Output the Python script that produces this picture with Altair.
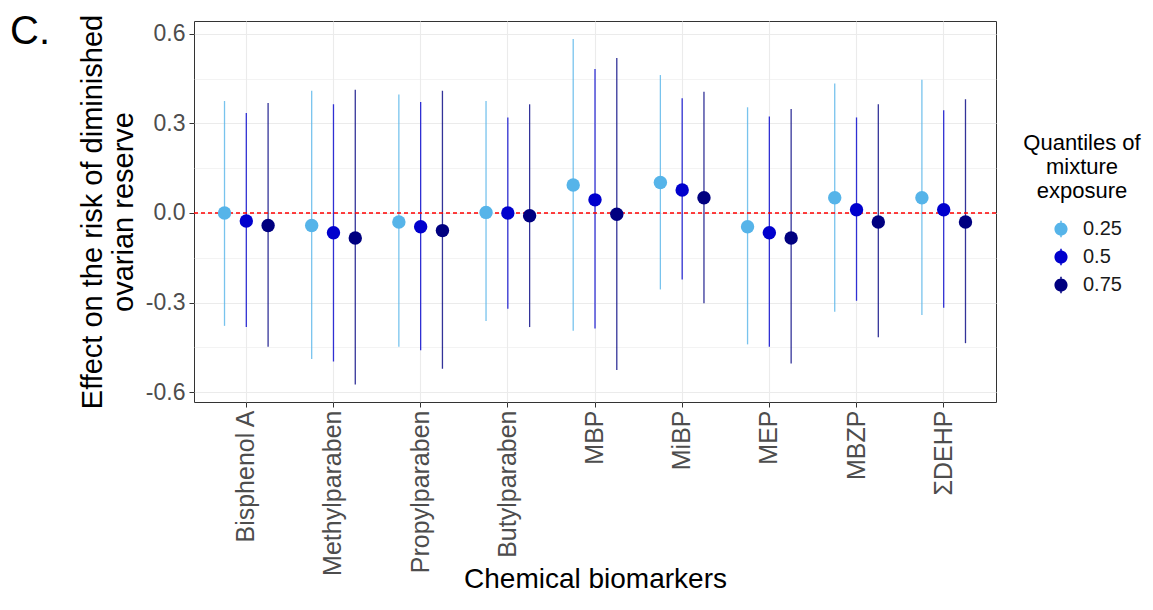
import altair as alt
import pandas as pd

chemicals = ["Bisphenol A", "Methylparaben", "Propylparaben", "Butylparaben",
             "MBP", "MiBP", "MEP", "MBZP", "ΣDEHP"]
quantiles = ["0.25", "0.5", "0.75"]

est_q25 = [0.000, -0.042, -0.030, 0.002, 0.094, 0.102, -0.046, 0.051, 0.051]
lo_q25 = [-0.378, -0.489, -0.448, -0.362, -0.394, -0.256, -0.440, -0.331, -0.342]
hi_q25 = [0.375, 0.409, 0.397, 0.375, 0.583, 0.462, 0.354, 0.434, 0.446]

est_q50 = [-0.027, -0.066, -0.046, 0.000, 0.044, 0.077, -0.066, 0.011, 0.011]
lo_q50 = [-0.382, -0.497, -0.460, -0.321, -0.387, -0.223, -0.448, -0.294, -0.317]
hi_q50 = [0.335, 0.364, 0.372, 0.320, 0.482, 0.384, 0.323, 0.320, 0.344]

est_q75 = [-0.042, -0.084, -0.059, -0.009, -0.004, 0.051, -0.084, -0.030, -0.030]
lo_q75 = [-0.448, -0.574, -0.522, -0.382, -0.526, -0.302, -0.504, -0.416, -0.436]
hi_q75 = [0.368, 0.413, 0.409, 0.364, 0.519, 0.406, 0.348, 0.364, 0.381]

colors = ["#56B4E9", "#0000CD", "#000080"]
y_ticks = [-0.6, -0.45, -0.3, -0.15, 0.0, 0.15, 0.3, 0.45, 0.6]
reference_line = [0.0]
panel_label = ["C."]

rows = []
for q, est, lo, hi in zip(quantiles, [est_q25, est_q50, est_q75],
                          [lo_q25, lo_q50, lo_q75], [hi_q25, hi_q50, hi_q75]):
    for c, e, l, h in zip(chemicals, est, lo, hi):
        rows.append({"chemical": c, "quantile": q, "est": e, "lo": l, "hi": h})
df = pd.DataFrame(rows)

FONT = "Liberation Sans"
major = "abs(datum.value/0.3 - round(datum.value/0.3)) < 0.01"

legend_symbol = ("M-0.8,0 A0.8,0.8 0 1,0 0.8,0 A0.8,0.8 0 1,0 -0.8,0 Z "
                 "M-0.09,-1 L0.09,-1 L0.09,-0.79 L-0.09,-0.79 Z "
                 "M-0.09,0.79 L0.09,0.79 L0.09,1 L-0.09,1 Z")

legend = alt.Legend(
    title=["Quantiles of", "mixture", "exposure"],
    orient="none", legendX=829, legendY=112, padding=0,
    titleFont=FONT, titleFontSize=22, titleFontWeight="normal", titleColor="black",
    titleAlign="center", titleAnchor="middle", titleLineHeight=24, titlePadding=16,
    labelFont=FONT, labelFontSize=20, labelColor="#1a1a1a", labelOffset=12,
    symbolType=legend_symbol, symbolSize=270, symbolOpacity=1, symbolStrokeWidth=0,
    symbolOffset=9, rowPadding=8,
)

x_enc = alt.X("chemical:N", sort=chemicals,
              scale=alt.Scale(paddingInner=0, paddingOuter=0.1),
              axis=alt.Axis(title="Chemical biomarkers", labelAngle=-90, labelAlign="right",
                            labelBaseline="middle", labelFontSize=25, labelFont=FONT,
                            labelColor="#4d4d4d", labelPadding=3, bandPosition=0.5,
                            titleFont=FONT, titleFontSize=28, titleFontWeight="normal",
                            titleColor="black", titleBaseline="alphabetic", titleY=185,
                            domain=False, tickColor="#333333", tickSize=5, tickWidth=1,
                            grid=True, gridColor="#ebebeb", gridWidth=1.1))
xo_enc = alt.XOffset("quantile:N", sort=quantiles,
                     scale=alt.Scale(paddingInner=0, paddingOuter=0.5))
color_enc = alt.Color("quantile:N", sort=quantiles,
                      scale=alt.Scale(domain=quantiles, range=colors), legend=legend)
y_scale = alt.Scale(domain=[-0.633, 0.643], nice=False, zero=False)
y_axis = alt.Axis(
    title=["Effect on the risk of diminished", "ovarian reserve"],
    values=y_ticks,
    labelExpr=f"{major} ? replace(format(datum.value, '.1f'), '\u2212', '-') : ''",
    labelFont=FONT, labelFontSize=23, labelColor="#4d4d4d", labelPadding=4,
    titleFont=FONT, titleFontSize=29, titleFontWeight="normal", titleColor="black",
    titleLineHeight=31, titlePadding=7,
    domain=False, tickColor="#333333", tickSize=5, tickWidth=1,
    tickOpacity={"condition": {"test": major, "value": 1}, "value": 0},
    grid=True, gridColor="#ebebeb",
    gridWidth={"condition": {"test": major, "value": 1.1}, "value": 0.6},
)

base = alt.Chart(df)
bars = base.mark_rule(strokeWidth=1.3, opacity=0.8).encode(
    x=x_enc, xOffset=xo_enc,
    y=alt.Y("lo:Q", scale=y_scale, axis=y_axis), y2="hi:Q",
    color=color_enc,
)
zero = alt.Chart(pd.DataFrame({"ref": reference_line})).mark_rule(
    color="#ff0000", strokeDash=[4, 3], strokeWidth=1.5
).encode(y=alt.Y("ref:Q", scale=y_scale))
points = base.mark_circle(size=180, opacity=1).encode(
    x=x_enc, xOffset=xo_enc,
    y=alt.Y("est:Q", scale=y_scale),
    color=color_enc,
)
label = alt.Chart(pd.DataFrame({"panel": panel_label})).mark_text(
    font=FONT, fontSize=40, align="left", baseline="alphabetic", color="black"
).encode(text="panel:N", x=alt.value(-184), y=alt.value(23))

chart = alt.layer(bars, zero, points, label).properties(
    width=802, height=381,
    autosize=alt.AutoSizeParams(type="none"),
    padding={"left": 186, "top": 13, "right": 149, "bottom": 194},
).configure_view(stroke="#333333", strokeWidth=1)

chart.save("out.html", embed_options={"renderer": "svg", "actions": False})
